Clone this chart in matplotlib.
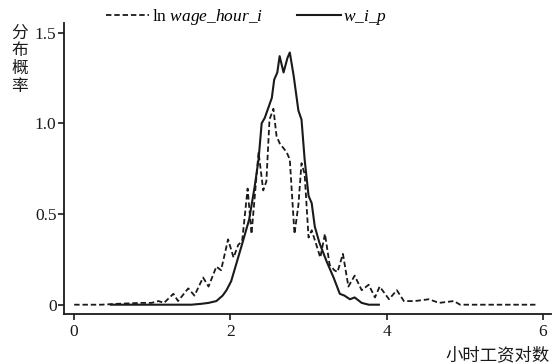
import matplotlib
matplotlib.use("Agg")
import matplotlib.pyplot as plt

plt.rcParams['font.family'] = ['Liberation Serif', 'Noto Sans CJK SC']
plt.rcParams['mathtext.fontset'] = 'custom'
plt.rcParams['mathtext.rm'] = 'Liberation Serif'
plt.rcParams['mathtext.it'] = 'Liberation Serif:italic'

# ln wage_hour_i (dashed)
wage_x = [0.0, 0.35, 0.56, 0.86, 0.99, 1.08, 1.15, 1.27, 1.33, 1.46, 1.54, 1.65,
          1.72, 1.82, 1.88, 1.97, 2.04, 2.10, 2.15, 2.22, 2.27, 2.36, 2.42, 2.46,
          2.50, 2.55, 2.59, 2.63, 2.72, 2.76, 2.82, 2.87, 2.91, 2.95, 3.00, 3.04,
          3.10, 3.15, 3.21, 3.27, 3.33, 3.37, 3.44, 3.51, 3.59, 3.68, 3.77, 3.85,
          3.91, 4.03, 4.13, 4.22, 4.36, 4.54, 4.67, 4.86, 4.94, 5.47, 5.92]
wage_y = [0.0, 0.0, 0.005, 0.01, 0.01, 0.02, 0.01, 0.06, 0.02, 0.09, 0.05, 0.15,
          0.10, 0.21, 0.19, 0.36, 0.26, 0.33, 0.35, 0.64, 0.39, 0.84, 0.63, 0.68,
          1.02, 1.08, 0.93, 0.89, 0.84, 0.80, 0.39, 0.55, 0.78, 0.72, 0.37, 0.41,
          0.33, 0.26, 0.39, 0.22, 0.19, 0.18, 0.28, 0.10, 0.16, 0.08, 0.11, 0.04,
          0.10, 0.03, 0.08, 0.02, 0.02, 0.03, 0.01, 0.02, 0.0, 0.0, 0.0]

# w_i_p (solid)
wip_x = [0.47, 1.5, 1.63, 1.72, 1.82, 1.9, 1.95, 2.01, 2.14, 2.24, 2.31, 2.36,
         2.40, 2.44, 2.53, 2.56, 2.60, 2.63, 2.68, 2.73, 2.76, 2.81, 2.87, 2.91,
         2.95, 3.00, 3.04, 3.08, 3.14, 3.23, 3.32, 3.40, 3.46, 3.53, 3.59, 3.68,
         3.77, 3.90]
wip_y = [0.0, 0.0, 0.005, 0.01, 0.02, 0.05, 0.08, 0.13, 0.32, 0.47, 0.65, 0.80,
         1.00, 1.03, 1.14, 1.24, 1.28, 1.37, 1.28, 1.36, 1.39, 1.26, 1.07, 1.02,
         0.80, 0.60, 0.56, 0.43, 0.34, 0.24, 0.15, 0.06, 0.05, 0.03, 0.04, 0.01,
         0.0, 0.0]

x_ticks = [0, 2, 4, 6]
y_ticks = [0, 0.5, 1.0, 1.5]
y_tick_labels = ['0', '0.5', '1.0', '1.5']

fs = 12.5

fig = plt.figure(figsize=(5.58, 3.64), dpi=100)
ax = fig.add_axes([0.115, 0.138, 0.872, 0.8])

ax.plot(wage_x, wage_y, color='#1a1a1a', lw=1.3, dashes=(3.0, 1.6),
        label=r'ln $\it{wage\_hour\_i}$')
ax.plot(wip_x, wip_y, color='#1a1a1a', lw=1.5, label=r'$\it{w\_i\_p}$')

ax.set_xlim(-0.128, 6.1)
ax.set_ylim(-0.05, 1.555)
ax.set_xticks(x_ticks)
ax.set_xticklabels([str(t) for t in x_ticks])
ax.set_yticks(y_ticks)
ax.set_yticklabels(y_tick_labels)

for s in ['top', 'right']:
    ax.spines[s].set_visible(False)
for s in ['left', 'bottom']:
    ax.spines[s].set_linewidth(1.3)
    ax.spines[s].set_color('#1a1a1a')

ax.tick_params(axis='y', direction='out', length=4.5, width=1.2, pad=1,
               labelsize=fs, colors='#1a1a1a')
ax.tick_params(axis='x', direction='out', length=4.5, width=1.2, pad=3,
               labelsize=fs, colors='#1a1a1a')

ax.legend(loc='lower left', bbox_to_anchor=(0.085, 0.985), ncol=2, frameon=False,
          fontsize=fs, handlelength=2.5, handletextpad=0.15, columnspacing=2.0,
          borderaxespad=0, borderpad=0)

fig.text(0.035, 0.93, '分\n布\n概\n率', fontsize=12, ha='center', va='top',
         linespacing=1.15, color='#1a1a1a')
fig.text(0.985, 0.011, '小时工资对数', fontsize=12.5, ha='right', va='baseline',
         color='#1a1a1a')

plt.savefig("out.png", dpi=100)
